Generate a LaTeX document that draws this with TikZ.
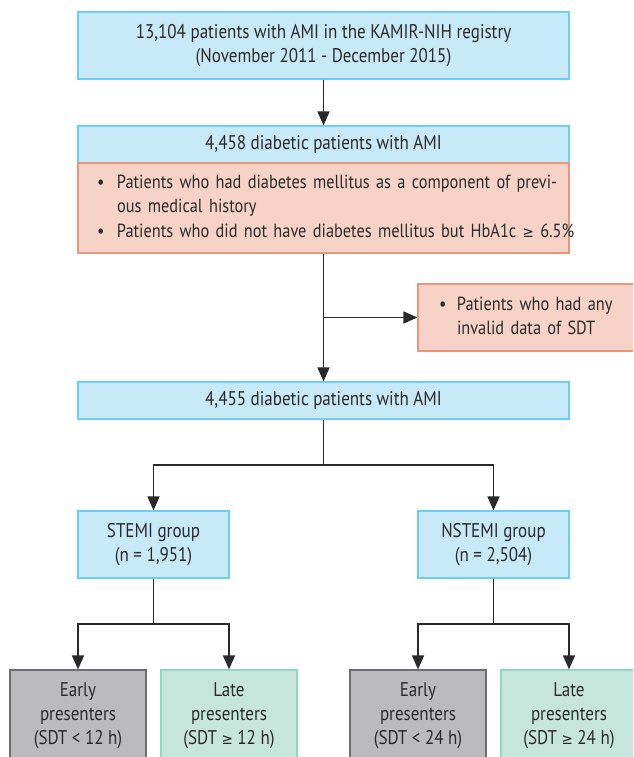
\documentclass[tikz,border=0pt]{standalone}
\usepackage{fontspec}
\setmainfont{PT Sans}[FakeStretch=0.86]
\newfontfamily\symfont{DejaVu Sans}[FakeStretch=0.9]
\usetikzlibrary{arrows.meta, positioning}
\definecolor{fillblue}{HTML}{C8E9F8}
\definecolor{lineblue}{HTML}{6CCFF2}
\definecolor{fillpink}{HTML}{F6D3C6}
\definecolor{linepink}{HTML}{E8967C}
\definecolor{fillgray}{HTML}{BBBBBE}
\definecolor{linegray}{HTML}{6D6E71}
\definecolor{fillgreen}{HTML}{C6E6DC}
\definecolor{linegreen}{HTML}{8ED8C1}
\definecolor{textgray}{HTML}{2A2A2A}
\newcommand{\geqsym}{{\symfont\fontsize{15}{15}\selectfont ≥}}
\tikzstyle{arrow}    = [line width=1.6pt, draw=textgray, -{Triangle[length=14pt,width=12pt]}]
\tikzstyle{line}     = [line width=1.6pt, draw=textgray]
\tikzstyle{box}      = [rectangle, line width=1.2pt, inner sep=0pt, align=center, text=textgray, font=\fontsize{19.8}{24}\selectfont]
\tikzstyle{bluebox}  = [box, draw=lineblue, fill=fillblue]
\tikzstyle{pinkbox}  = [box, draw=linepink, fill=fillpink, align=left, font=\fontsize{19}{24.5}\selectfont]
\tikzstyle{earlybox} = [box, draw=linegray, fill=fillgray, minimum width=136pt, minimum height=92pt]
\tikzstyle{latebox}  = [box, draw=linegreen, fill=fillgreen, minimum width=136pt, minimum height=92pt]

\begin{document}
\begin{tikzpicture}[x=1pt, y=-1pt]

\clip (0,0) rectangle (633,757);
\fill[white] (0,0) rectangle (633,757);

% registr a diabetici
\node[bluebox, minimum width=491pt, minimum height=67pt] (reg) at (323.5,45.5)
  {13,104 patients with AMI in the KAMIR-NIH registry\\(November 2011 - December 2015)};
\node[bluebox, minimum width=491pt, minimum height=37pt] (dia) at (323.5,144.5)
  {4,458 diabetic patients with AMI};
\node[pinkbox, minimum width=491pt, minimum height=90pt, text width=453pt] (crit) at (323.5,208)
  {\begin{tabular}{@{}p{20pt}@{}l@{}}
   \textbullet & Patients who had diabetes mellitus as a component of previ-\\
               & ous medical history\\
   \textbullet & Patients who did not have diabetes mellitus but HbA1c \geqsym{} 6.5\%
   \end{tabular}};

% vyrazeni
\node[pinkbox, minimum width=232pt, minimum height=67pt, text width=190pt] (excl) at (534,317.5)
  {\begin{tabular}{@{}p{18pt}@{}l@{}}
   \textbullet & Patients who had any\\
               & invalid data of SDT
   \end{tabular}};

\node[bluebox, minimum width=491pt, minimum height=37pt] (dia2) at (323.5,400.5)
  {4,455 diabetic patients with AMI};

% skupiny
\node[bluebox, minimum width=151pt, minimum height=67pt] (stemi)  at (153.5,544.5)
  {STEMI group\\(n = 1,951)};
\node[bluebox, minimum width=151pt, minimum height=67pt] (nstemi) at (493.5,544.5)
  {NSTEMI group\\(n = 2,504)};

% podskupiny
\node[earlybox] (early1) at (78,716)  {Early\\presenters\\(SDT < 12 h)};
\node[latebox]  (late1)  at (229,716) {Late\\presenters\\(SDT \geqsym{} 12 h)};
\node[earlybox] (early2) at (418,716) {Early\\presenters\\(SDT < 24 h)};
\node[latebox]  (late2)  at (569,716) {Late\\presenters\\(SDT \geqsym{} 24 h)};

% spojky
\coordinate (split) at (crit.south |- excl.west);
\coordinate (b1) at (323.5,465);
\coordinate (b2) at (153.5,624);
\coordinate (b3) at (493.5,624);

\draw[arrow] (reg) -- (dia);
\draw[arrow] (crit) -- (dia2);
\draw[arrow] (split) -- (excl.west);

\draw[line]  (dia2) -- (b1);
\draw[arrow] (b1) -| (stemi);
\draw[arrow] (b1) -| (nstemi);

\draw[line]  (stemi) -- (b2);
\draw[arrow] (b2) -| (early1);
\draw[arrow] (b2) -| (late1);

\draw[line]  (nstemi) -- (b3);
\draw[arrow] (b3) -| (early2);
\draw[arrow] (b3) -| (late2);

\end{tikzpicture}
\end{document}
